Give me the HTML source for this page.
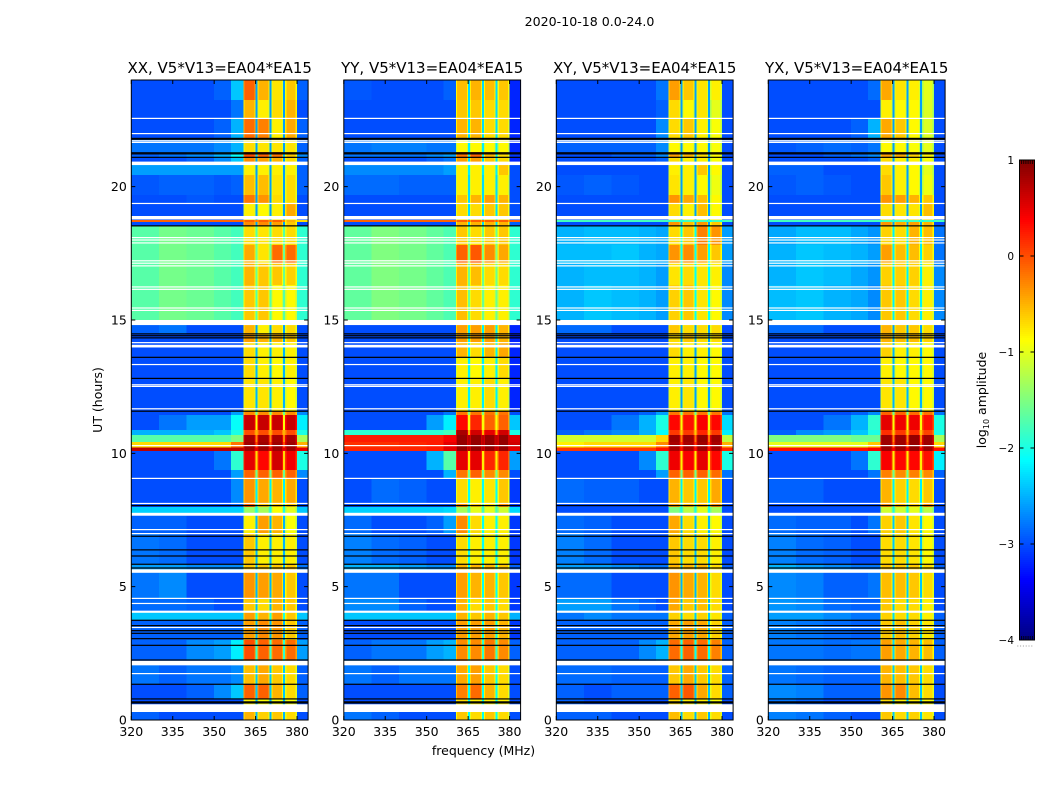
<!DOCTYPE html>
<html>
<head>
<meta charset="utf-8">
<title>2020-10-18 amplitude waterfall</title>
<style>
html,body{margin:0;padding:0;background:#fff;}
svg{display:block;}
text{font-family:"DejaVu Sans","Liberation Sans",sans-serif;fill:#000;}
</style>
</head>
<body>
<svg id="figure" xmlns="http://www.w3.org/2000/svg" width="1050" height="800" viewBox="0 0 1050 800">
  <rect x="0" y="0" width="1050" height="800" fill="#fff"/>
  <text x="589.5" y="26" text-anchor="middle" font-size="12.6">2020-10-18 0.0-24.0</text>
  <text x="102" y="400" text-anchor="middle" font-size="12.5" transform="rotate(-90 102 400)">UT (hours)</text>
  <text x="483.5" y="755" text-anchor="middle" font-size="12.5">frequency (MHz)</text>
  <g id="panels"></g>
  <g id="colorbar"></g>
  <text transform="translate(986 400) rotate(-90)" text-anchor="middle" font-size="12.5">log<tspan font-size="8" dy="3">10</tspan><tspan dy="-3"> amplitude</tspan></text>
</svg>
<script>
// Frequency channel groups (MHz) and time bands (UT hours, top to bottom)
const freqEdges = [320,330,340,350,356,360.6,361,364.6,365,365.7,366.1,369.6,370,370.7,371.1,374.6,375,375.7,376.1,379.5,380,384];
const timeEdges = [24,23.25,22.58,21.83,21.30,21.08,20.81,20.44,19.69,19.39,18.90,18.75,18.68,18.53,17.81,17.14,16.31,15.0,14.81,14.48,14.18,13.61,12.83,11.59,11.44,10.88,10.69,10.43,10.22,10.09,9.38,9.08,8.14,7.99,7.69,7.01,5.85,5.55,4.58,4.05,3.75,3.0,2.25,2.06,1.35,0.79,0.30,0];
// Value order per row: L1,L2,L3,L4,L5,W1,W2,W3,W4,R,gap (log10 amplitude)
const xxAmplitude = [
[-3,-3,-3,-2.9,-2.4,-.1,-.5,-.75,-.6,-2.9,-2.6],
[-3,-3,-3,-3,-2.8,-.5,-.8,-.7,-.5,-3,-2.6],
[-3,-3,-3,-2.9,-2.5,-.15,-.25,-.8,-.45,-2.9,-2.6],
[-2.8,-2.8,-2.8,-2.7,-2.5,-.7,-.75,-.75,-.75,-2.9,-2.6],
[-2.9,-2.8,-2.7,-2.5,-2.1,0,-.1,-.2,-.6,-2.7,-2.4],
[-3,-3,-2.9,-2.7,-2.4,-.3,-.4,-.5,-.7,-2.9,-2.6],
[-2.6,-2.6,-2.6,-2.6,-2.6,-.8,-.8,-.8,-.8,-2.9,-2.6],
[-2.95,-2.9,-2.9,-2.95,-2.9,-.55,-.55,-.75,-.7,-2.9,-2.6],
[-3,-3,-2.95,-3,-3,-.2,-.35,-.7,-.7,-3,-2.6],
[-3,-3,-3,-3,-3,-.8,-.85,-.8,-.45,-3,-2.6],
[-3,-3,-3,-3,-3,-.8,-.8,-.8,-.8,-3,-2.6],
[-.1,-.1,-.1,-.1,-.1,-.1,-.1,-.1,-.5,-.7,-.2],
[-3,-3,-3,-3,-3,-.3,-.3,-.4,-.6,-3,-2.6],
[-1.7,-1.55,-1.6,-1.7,-1.8,-.7,-.75,-.7,-.7,-1.9,-1.7],
[-1.7,-1.55,-1.6,-1.7,-1.8,-.45,-.75,-.15,-.15,-1.9,-1.6],
[-1.7,-1.55,-1.6,-1.7,-1.8,-.5,-.6,-.6,-.65,-1.9,-1.6],
[-1.7,-1.55,-1.6,-1.7,-1.8,-.6,-.6,-.85,-.85,-1.9,-1.7],
[-2.9,-2.9,-2.9,-2.9,-2.9,-.5,-.6,-.7,-.7,-3,-2.5],
[-2.9,-2.8,-3,-3,-3,-.5,-.8,-.7,-.7,-3,-2.6],
[-3,-3,-3,-3,-3,-.4,-.5,-.5,-.6,-3,-2.6],
[-3,-3,-3,-3,-3,-.7,-.8,-.8,-.8,-3,-2.5],
[-3,-3,-3,-3,-3,-.7,-.8,-.85,-.8,-3,-2.5],
[-3,-3,-3,-3,-3,-.75,-.75,-.8,-.85,-3,-2.5],
[-3,-3,-3,-3,-2.6,-.3,-.3,-.3,-.3,-2.7,-1.6],
[-3,-2.8,-2.6,-2.6,-2.1,.65,.65,.65,.65,-2.2,-.9],
[-2.5,-2.5,-2.5,-2.4,-2,0,0,0,0,-2,-.5],
[-1.7,-1.7,-1.7,-1.7,-1.5,.8,.8,.8,.8,-1.3,-.3],
[-.7,-.7,-.7,-.7,-.2,.85,.85,.85,.85,-.5,0],
[.7,.7,.7,.7,.7,.85,.85,.85,.85,.5,.5],
[-3,-3,-3,-2.8,-1.9,.5,.35,.6,.45,-2,-.7],
[-3,-3,-3,-3,-2.6,-.1,-.1,-.1,-.1,-2.7,-1.6],
[-3,-3,-3,-3,-2.7,-.35,-.45,-.5,-.45,-3,-2.2],
[-3,-3,-3,-3,-2.9,-.1,-.6,-.6,-.6,-3,-2.2],
[-2.35,-2.35,-2.35,-2.35,-2.35,-1.35,-1.3,-.9,-1,-2.4,-2],
[-2.9,-2.9,-3,-3,-3,-.8,-.4,-.5,-.9,-3,-2.5],
[-2.8,-2.85,-3,-3,-3,-.6,-.8,-.8,-.8,-3,-2.5],
[-2.6,-2.6,-2.7,-2.7,-2.7,-.6,-.6,-.6,-.6,-2.8,-2.5],
[-2.8,-2.7,-3,-3,-3,-.35,-.4,-.45,-.6,-3,-2.5],
[-2.85,-2.85,-2.9,-3,-3,-.6,-.7,-.5,-.6,-3,-2.5],
[-2.4,-2.4,-2.4,-2.4,-2.4,-.4,-.5,-.4,-.6,-2.4,-2],
[-2.9,-2.9,-2.9,-2.9,-2.9,-.4,-.3,-.35,-.6,-2.9,-2.5],
[-2.9,-2.9,-2.7,-2.6,-2.2,0,-.1,-.15,-.15,-2.6,-1.9],
[-2.9,-2.9,-2.9,-2.9,-2.7,-.3,-.3,-.3,-.3,-2.9,-2.2],
[-2.8,-2.9,-2.8,-2.8,-2.7,-.55,-.45,-.6,-.7,-2.9,-2.4],
[-3,-3,-2.9,-2.7,-2.4,-.1,-.1,-.5,-.7,-2.9,-2.4],
[-3,-3,-3,-3,-3,-.8,-.9,-.9,-.9,-3,-2.5],
[-2.9,-3,-3,-3,-3,-.5,-.65,-.6,-.7,-3,-2.5]
];
const yyAmplitude = [
[-2.95,-3,-3,-3,-2.9,-.55,-.5,-.55,-.6,-3.2,-2.3],
[-3,-3,-3,-3,-3,-.6,-.6,-.7,-.7,-3.2,-2.3],
[-3,-3,-3,-3,-3,-.5,-.5,-.7,-.7,-3.2,-2.3],
[-2.8,-2.75,-2.75,-2.8,-2.8,-.85,-.85,-.85,-.85,-3.2,-2.2],
[-2.8,-2.8,-2.8,-2.7,-2.6,-.2,-.1,-.5,-.7,-3.1,-2.2],
[-3,-3,-3,-2.9,-2.8,-.4,-.4,-.6,-.7,-3.2,-2.3],
[-2.7,-2.7,-2.7,-2.7,-2.6,-.8,-.8,-.8,-.6,-3,-2.2],
[-2.85,-2.85,-2.9,-2.9,-2.9,-.8,-.8,-.8,-.8,-3,-2.3],
[-3,-3,-3,-3,-3,-.6,-.5,-.4,-.5,-3,-2.3],
[-3,-3,-3,-3,-3,-.7,-.7,-.6,-.6,-3,-2.3],
[-3,-3,-3,-3,-3,-.7,-.7,-.7,-.7,-3,-2.3],
[-.1,-.1,-.1,-.1,-.1,-.1,-.1,-.1,-.1,-.1,-.1],
[-3,-3,-3,-3,-3,-.5,-.5,-.5,-.5,-2.9,-2.3],
[-1.65,-1.5,-1.55,-1.65,-1.75,-.6,-.7,-.6,-.6,-1.9,-1.6],
[-1.65,-1.5,-1.55,-1.65,-1.75,-.1,-.05,-.3,-.45,-1.9,-1.5],
[-1.65,-1.5,-1.55,-1.65,-1.75,-.5,-.55,-.7,-.7,-1.9,-1.6],
[-1.65,-1.5,-1.55,-1.65,-1.75,-.55,-.7,-.8,-.8,-1.9,-1.6],
[-2.9,-2.9,-2.9,-2.9,-2.9,-.5,-.5,-.5,-.5,-3.1,-2.2],
[-3,-3,-3,-3,-3,-.4,-.4,-.4,-.5,-3.2,-2.2],
[-3,-3,-3,-3,-3,-.4,-.4,-.4,-.5,-3.2,-2.2],
[-3,-3,-3,-3,-3,-.5,-.7,-.5,-.45,-3.2,-2.2],
[-3,-3,-3,-3,-3,-.8,-.85,-.8,-.7,-3.2,-2.2],
[-3,-3,-3,-3,-3,-.8,-.8,-.7,-.8,-3.2,-2.2],
[-3,-3,-3,-3,-2.8,-.2,-.2,-.2,-.2,-3,-1.5],
[-3,-3,-3,-2.6,-2.2,.35,.2,-.1,-.1,-2.4,-.9],
[-1.9,-1.9,-1.9,-1.9,-1.8,.8,.6,.5,.6,-2,-.5],
[.25,.25,.25,.25,.4,.9,.9,.9,.9,.55,.7],
[.15,.15,.2,.25,.5,.9,.9,.9,.9,.6,.7],
[.2,.2,.2,.25,.5,.9,.9,.9,.9,.5,.7],
[-3,-3,-3,-2.5,-1.7,.5,.5,.2,.2,-2.6,-.8],
[-3,-3,-3,-3,-2.5,-.2,-.1,-.3,-.3,-3,-1.6],
[-3,-2.85,-2.9,-3,-3,-.7,-.8,-.75,-.6,-3.1,-2.1],
[-3,-3,-3,-3,-3,-.3,-.6,-.7,-.3,-3.1,-2],
[-2.35,-2.35,-2.35,-2.35,-2.3,-1.3,-1,-1,-1.1,-2.3,-1.8],
[-2.85,-3,-3,-2.9,-2.6,-.3,-.7,-.8,-.8,-3.1,-2.1],
[-2.75,-2.85,-2.9,-3,-3,-.7,-.8,-.8,-.8,-3.1,-2.1],
[-2.5,-2.5,-2.6,-2.7,-2.7,-.5,-.5,-.5,-.6,-2.9,-2.1],
[-2.8,-2.8,-3,-3,-3,-.4,-.5,-.5,-.6,-3.1,-2.1],
[-2.7,-2.7,-2.9,-3,-3,-.5,-.7,-.6,-.7,-3.1,-2.1],
[-2.4,-2.4,-2.4,-2.4,-2.4,-.5,-.6,-.5,-.6,-2.5,-1.9],
[-3,-3,-3,-3,-3,-.4,-.4,-.4,-.5,-3.1,-2.1],
[-2.9,-2.8,-2.8,-2.6,-2.5,-.3,-.3,-.2,-.3,-2.9,-1.9],
[-2.7,-2.7,-2.7,-2.7,-2.5,-.1,-.2,-.3,-.3,-3,-2],
[-2.8,-2.9,-2.8,-2.8,-2.8,-.45,-.4,-.6,-.7,-3,-2.1],
[-3,-3,-3,-3,-3,-.25,-.15,-.5,-.7,-3,-2.1],
[-3,-3,-3,-3,-3,-.7,-.8,-.8,-.8,-3,-2.1],
[-2.8,-2.9,-3,-3,-3,-.6,-.7,-.6,-.7,-3,-2.1]
];
const xyAmplitude = [
[-3,-3,-3,-3,-2.8,-.4,-.6,-.75,-.8,-3,-2.6],
[-3,-3,-3,-3,-2.9,-.7,-.85,-.75,-1,-3,-2.6],
[-3,-3,-3,-3,-2.7,-.7,-.6,-.8,-.9,-3,-2.6],
[-2.9,-2.9,-2.9,-2.9,-2.7,-.85,-.85,-.85,-.9,-3,-2.6],
[-3,-3,-2.9,-2.9,-2.7,-.4,-.5,-.7,-.85,-3,-2.6],
[-3,-3,-3,-3,-2.9,-.7,-.8,-.8,-.9,-3,-2.6],
[-3,-3,-3,-3,-3,-.8,-.8,-.6,-.85,-3,-2.6],
[-2.95,-2.9,-2.95,-3,-3,-.75,-.8,-.85,-.95,-3,-2.6],
[-3,-3,-3,-3,-3,-.35,-.45,-.55,-.85,-3,-2.6],
[-3,-3,-3,-3,-3,-.7,-.8,-.55,-.85,-3,-2.6],
[-3,-3,-3,-3,-3,-.8,-.8,-.8,-.8,-3,-2.6],
[-1.8,-1.8,-1.8,-1.8,-1.8,-1.8,-1.8,-1.8,-1.8,-1.8,-1.8],
[-3,-3,-3,-3,-3,-.35,-.55,-.35,-.6,-3,-2.6],
[-2.5,-2.45,-2.45,-2.5,-2.55,-.7,-.6,-.25,-.35,-2.6,-2.1],
[-2.45,-2.45,-2.4,-2.5,-2.55,-.35,-.3,-.4,-.6,-2.6,-2.1],
[-2.5,-2.45,-2.45,-2.5,-2.6,-.75,-.7,-.75,-.8,-2.7,-2.1],
[-2.5,-2.4,-2.45,-2.5,-2.6,-.65,-.6,-.75,-.85,-2.7,-2.1],
[-2.9,-2.9,-2.9,-2.9,-2.9,-.7,-.7,-.7,-.7,-3,-2.6],
[-2.85,-2.85,-3,-3,-3,-.6,-.7,-.7,-.7,-3,-2.6],
[-3,-3,-3,-3,-3,-.7,-.6,-.7,-.7,-3,-2.6],
[-3,-3,-3,-3,-3,-.7,-.8,-.8,-.85,-3,-2.6],
[-3,-3,-3,-3,-3,-.8,-.8,-.85,-.85,-3,-2.6],
[-3,-3,-3,-3,-3,-.8,-.75,-.85,-.85,-3,-2.6],
[-3,-3,-3,-2.9,-2.6,-.2,-.2,-.2,-.2,-2.8,-1.6],
[-3,-3,-2.8,-2.5,-2,.35,.3,.4,.35,-2.3,-.9],
[-2.9,-2.8,-2.7,-2.5,-2.1,.1,.1,.2,.1,-2.2,-.6],
[-1.1,-1.1,-1.1,-1.1,-.7,.85,.85,.9,.85,-1.2,-.2],
[-.8,-.7,-.7,-.7,-.3,.8,.8,.85,.8,-.5,.1],
[.1,.1,.1,.1,.3,.8,.8,.85,.8,.2,.3],
[-3,-3,-3,-2.7,-1.9,.45,.4,.5,.35,-2,-.8],
[-3,-3,-3,-3,-2.6,-.1,-.1,-.1,-.15,-2.8,-1.6],
[-2.85,-2.9,-2.9,-3,-3,-.5,-.6,-.6,-.45,-3,-2.2],
[-3,-3,-3,-3,-3,-.4,-.5,-.5,-.3,-3,-2.2],
[-3,-3,-3,-3,-3,-1.5,-1.2,-1,-1.3,-3,-2],
[-2.85,-2.9,-3,-3,-3,-.45,-.7,-.8,-.85,-3,-2.5],
[-2.75,-2.85,-3,-3,-3,-.6,-.7,-.7,-.8,-3,-2.5],
[-2.6,-2.6,-2.7,-2.8,-2.8,-.5,-.5,-.5,-.7,-2.9,-2.5],
[-2.85,-2.85,-3,-3,-3,-.35,-.45,-.5,-.7,-3,-2.5],
[-2.6,-2.6,-2.8,-2.9,-3,-.45,-.6,-.55,-.7,-3,-2.5],
[-2.8,-2.7,-2.8,-2.8,-2.8,-.65,-.7,-.65,-.75,-2.9,-2.4],
[-2.9,-2.9,-2.9,-2.9,-2.9,-.45,-.4,-.45,-.65,-2.9,-2.4],
[-2.9,-2.9,-2.9,-2.7,-2.5,-.15,-.1,-.15,-.25,-2.9,-2.1],
[-2.8,-2.8,-2.8,-2.8,-2.6,-.3,-.3,-.3,-.4,-2.9,-2.2],
[-2.85,-2.85,-2.9,-2.9,-2.9,-.6,-.45,-.6,-.7,-2.9,-2.4],
[-2.9,-3,-2.9,-2.9,-2.9,-.1,-.05,-.45,-.7,-2.9,-2.4],
[-2.9,-3,-3,-3,-3,-.7,-.8,-.8,-.9,-3,-2.5],
[-2.9,-2.9,-3,-3,-3,-.55,-.7,-.6,-.7,-3,-2.5]
];
const yxAmplitude = [
[-3,-3,-3,-3,-2.85,-.45,-.75,-.8,-1,-3,-2.6],
[-3,-3,-3,-3,-3,-.8,-.85,-.85,-1.05,-3,-2.6],
[-3,-3,-3,-2.9,-2.5,-.45,-.6,-.85,-1.05,-3,-2.6],
[-2.95,-2.9,-2.85,-2.9,-2.8,-.85,-.85,-.9,-1,-3,-2.6],
[-3,-3,-2.9,-2.8,-2.7,-.4,-.45,-.65,-.8,-3,-2.6],
[-3,-3,-3,-3,-2.9,-.7,-.8,-.8,-.9,-3,-2.6],
[-2.9,-2.9,-3,-3,-3,-.7,-.8,-.85,-1,-3,-2.6],
[-2.95,-2.9,-2.95,-3,-3,-.6,-.8,-.85,-.95,-3,-2.6],
[-3,-3,-3,-3,-3,-.35,-.4,-.5,-.6,-3,-2.6],
[-3,-3,-3,-3,-3,-.7,-.75,-.75,-.55,-3,-2.6],
[-3,-3,-3,-3,-3,-.7,-.7,-.7,-.7,-3,-2.6],
[-1.8,-1.8,-1.8,-1.8,-1.8,-1.8,-1.8,-1.8,-1.8,-1.8,-1.8],
[-3,-3,-3,-3,-3,-.35,-.45,-.4,-.5,-3,-2.6],
[-2.55,-2.45,-2.45,-2.55,-2.65,-.65,-.7,-.5,-.55,-2.8,-2.2],
[-2.5,-2.4,-2.45,-2.5,-2.6,-.4,-.55,-.55,-.65,-2.8,-2.2],
[-2.5,-2.4,-2.45,-2.55,-2.65,-.65,-.65,-.65,-.8,-2.7,-2.2],
[-2.45,-2.4,-2.5,-2.55,-2.7,-.6,-.6,-.7,-.8,-2.7,-2.2],
[-2.9,-2.9,-2.9,-2.9,-2.9,-.6,-.6,-.6,-.7,-3,-2.6],
[-2.85,-2.85,-3,-3,-3,-.5,-.6,-.6,-.7,-3,-2.6],
[-3,-3,-3,-3,-3,-.5,-.55,-.55,-.65,-3,-2.6],
[-3,-3,-3,-3,-3,-.65,-.8,-.8,-.85,-3,-2.5],
[-3,-3,-3,-3,-3,-.8,-.85,-.85,-.85,-3,-2.5],
[-3,-3,-3,-3,-3,-.75,-.75,-.85,-.85,-3,-2.5],
[-3,-3,-3,-2.9,-2.7,-.1,-.1,-.15,-.2,-2.8,-1.6],
[-3,-3,-2.8,-2.5,-1.9,.5,.45,.45,.3,-2,-.9],
[-2.9,-2.7,-2.6,-2.4,-2,.15,.1,.15,.05,-2,-.6],
[-1.5,-1.5,-1.5,-1.6,-1.6,.85,.85,.9,.85,-1.3,-.3],
[-1,-1,-1,-1,-.6,.85,.85,.9,.85,-.7,-.1],
[.3,.3,.3,.3,.4,.85,.85,.9,.85,.3,.4],
[-3,-3,-3,-2.8,-1.9,.4,.35,.35,.3,-2.2,-.8],
[-3,-3,-3,-3,-2.8,-.25,-.3,-.25,-.3,-2.9,-1.6],
[-2.9,-2.9,-3,-3,-3,-.5,-.65,-.7,-.6,-3,-2.2],
[-3,-3,-3,-3,-3,-.3,-.5,-.6,-.3,-3,-2.2],
[-3,-3,-3,-3,-3,-1.1,-1.1,-1,-1.2,-3,-2],
[-2.85,-2.9,-2.9,-3,-2.8,-.65,-.6,-.75,-.85,-3,-2.4],
[-2.75,-2.85,-2.9,-3,-3,-.7,-.7,-.75,-.85,-3,-2.4],
[-2.5,-2.6,-2.7,-2.8,-2.8,-.6,-.6,-.6,-.7,-2.9,-2.4],
[-2.7,-2.75,-2.9,-2.9,-2.8,-.55,-.55,-.6,-.7,-3,-2.4],
[-2.65,-2.7,-2.85,-2.9,-2.9,-.6,-.7,-.7,-.8,-3,-2.4],
[-2.6,-2.6,-2.7,-2.8,-2.8,-.65,-.7,-.7,-.8,-2.9,-2.3],
[-2.75,-2.8,-2.85,-2.9,-2.9,-.6,-.55,-.65,-.75,-2.9,-2.4],
[-2.8,-2.8,-2.85,-2.8,-2.8,-.4,-.45,-.5,-.55,-2.9,-2.3],
[-2.8,-2.8,-2.8,-2.8,-2.7,-.4,-.4,-.5,-.5,-2.9,-2.3],
[-2.8,-2.85,-2.9,-2.9,-2.9,-.5,-.55,-.6,-.7,-3,-2.4],
[-2.7,-2.75,-2.9,-2.9,-2.9,-.35,-.3,-.55,-.7,-3,-2.4],
[-2.8,-2.9,-3,-3,-3,-.7,-.8,-.8,-.85,-3,-2.4],
[-2.75,-2.8,-2.9,-3,-3,-.6,-.7,-.65,-.75,-3,-2.4]
];
// Flagged (empty) and zero-amplitude integrations, UT hours
const whiteLines = [22.56,21.99,21.72,21.66,19.37,18.09,18.0,17.89,17.22,17.13,17.03,16.24,16.15,15.45,15.36,14.15,13.33,12.57,12.51,11.67,10.29,9.06,8.12,7.14,6.99,4.56,4.37,3.47,1.74];
const whiteBandStarts = [20.81,18.77,14.81,13.97,7.66,5.52,4.02,2.05,0.30];
const whiteBandEnds = [20.94,18.90,15.0,14.07,7.77,5.65,4.10,2.22,0.59];
const blackLines = [21.81,21.78,21.27,21.23,21.10,18.53,14.48,14.41,14.33,13.60,12.81,11.58,8.04,6.89,6.38,6.15,5.84,5.70,3.74,3.54,3.35,3.25,3.05,2.80,2.25,1.34,0.79,0.68,0.64];
const panelTitles = ["XX, V5*V13=EA04*EA15","YY, V5*V13=EA04*EA15","XY, V5*V13=EA04*EA15","YX, V5*V13=EA04*EA15"];
const panelSeries = [xxAmplitude,yyAmplitude,xyAmplitude,yxAmplitude];
const freqTickLabels = [320,335,350,365,380];
const timeTickLabels = [0,5,10,15,20];
const colorbarTickLabels = [-4,-3,-2,-1,0,1];

const NS = "http://www.w3.org/2000/svg";
const panelLefts = [131.3,343.8,556.3,768.3];
const plotTop = 80, plotBottom = 720, plotWidth = 176.8;
const cellColumn = [0,1,2,3,4,5,5,5,10,6,6,6,10,7,7,7,10,8,8,8,9];
const cellIsEdge = [0,0,0,0,0,1,0,1,0,1,0,1,0,1,0,1,0,1,0,1,0];
const windowEdgeDrop = 0.3;
function yScale(h){ return plotBottom - (h/24)*(plotBottom-plotTop); }
function xScale(f,left){ return left + (f-320)/64*plotWidth; }
function jet(v){
  const t = Math.max(0,Math.min(1,(v+4)/5));
  const c = k => Math.round(255*Math.max(0,Math.min(1,1.5-Math.abs(4*t-k))));
  return "rgb("+c(3)+","+c(2)+","+c(1)+")";
}
function make(tag,attrs,parent){
  const el = document.createElementNS(NS,tag);
  for(const k in attrs) el.setAttribute(k,attrs[k]);
  parent.appendChild(el);
  return el;
}
const panelsGroup = document.getElementById("panels");
panelSeries.forEach(function(series,p){
  const left = panelLefts[p];
  const g = make("g",{},panelsGroup);
  
  
  series.forEach(function(row,r){
    const y0 = yScale(timeEdges[r]), y1 = yScale(timeEdges[r+1]);
    cellColumn.forEach(function(col,c){
      const x0 = xScale(freqEdges[c],left), x1 = xScale(freqEdges[c+1],left);
      const value = row[col] - (cellIsEdge[c] ? windowEdgeDrop : 0);
      const cell = make("rect",{x:x0,y:y0,width:x1-x0,height:y1-y0,fill:jet(value),"shape-rendering":"crispEdges"},g);
      
      
    });
  });
  whiteBandStarts.forEach(function(s,i){
    const band = make("rect",{x:left,y:yScale(whiteBandEnds[i]),width:plotWidth,height:yScale(s)-yScale(whiteBandEnds[i]),fill:"#fff"},g);
    
    
  });
  whiteLines.forEach(function(h){
    const line = make("rect",{x:left,y:yScale(h)-0.6,width:plotWidth,height:1.2,fill:"#fff"},g);
    
    
  });
  blackLines.forEach(function(h){
    const line = make("rect",{x:left,y:yScale(h)-0.6,width:plotWidth,height:1.2,fill:"#000"},g);
    
    
  });
  const frame = make("rect",{x:left,y:plotTop,width:plotWidth,height:plotBottom-plotTop,fill:"none",stroke:"#000","stroke-width":1},g);
  
  
  const title = make("text",{x:left+plotWidth/2,y:73,"text-anchor":"middle","font-size":"15"},g);
  title.textContent = panelTitles[p];
  
  
  freqTickLabels.forEach(function(f){
    const x = xScale(f,left);
    make("path",{d:"M"+x+" "+plotBottom+"v-4M"+x+" "+plotTop+"v4",stroke:"#000","stroke-width":1,fill:"none"},g);
    const lab = make("text",{x:x,y:plotBottom+16,"text-anchor":"middle","font-size":"12.5"},g);
    lab.textContent = f;
    
    
  });
  timeTickLabels.forEach(function(h){
    const y = yScale(h);
    make("path",{d:"M"+left+" "+y+"h4M"+(left+plotWidth)+" "+y+"h-4",stroke:"#000","stroke-width":1,fill:"none"},g);
    const lab = make("text",{x:left-4.5,y:y+4.5,"text-anchor":"end","font-size":"12.5"},g);
    lab.textContent = h;
    
    
  });
});
// Colorbar
const cb = document.getElementById("colorbar");
const cbLeft = 1019.5, cbWidth = 15, cbTop = 160, cbBottom = 640;
function cbScale(v){ return cbBottom - (v+4)/5*(cbBottom-cbTop); }
const cbMin = colorbarTickLabels[0], cbMax = colorbarTickLabels[colorbarTickLabels.length-1];
for(let i=0;i<240;i++){
  const v = cbMin + (cbMax-cbMin)*i/240;
  const s = make("rect",{x:cbLeft,y:cbScale(v+(cbMax-cbMin)/240),width:cbWidth,height:2.1,fill:jet(v+(cbMax-cbMin)/480),"shape-rendering":"crispEdges"},cb);
  
  
}
const cbFrame = make("rect",{x:cbLeft,y:cbTop,width:cbWidth,height:cbBottom-cbTop,fill:"none",stroke:"#000","stroke-width":1},cb);


colorbarTickLabels.forEach(function(v){
  const y = cbScale(v);
  make("path",{d:"M"+cbLeft+" "+y+"h4M"+(cbLeft+cbWidth)+" "+y+"h-4",stroke:"#000","stroke-width":1,fill:"none"},cb);
  const lab = make("text",{x:cbLeft-5.5,y:y+4,"text-anchor":"end","font-size":"10.5"},cb);
  lab.textContent = String(v).replace("-","\u2212");
  
  
});
for(let i=1;i<7;i++){
  const tx = cbLeft + i*cbWidth/7;
  make("path",{d:"M"+tx+" "+cbTop+"v4M"+tx+" "+cbBottom+"v-4",stroke:"#000","stroke-width":0.8,fill:"none"},cb);
  const dot = make("rect",{x:1014.5+i*2.8,y:645.5,width:1,height:1,fill:"#999"},cb);
  
  
}
</script>
</body>
</html>
